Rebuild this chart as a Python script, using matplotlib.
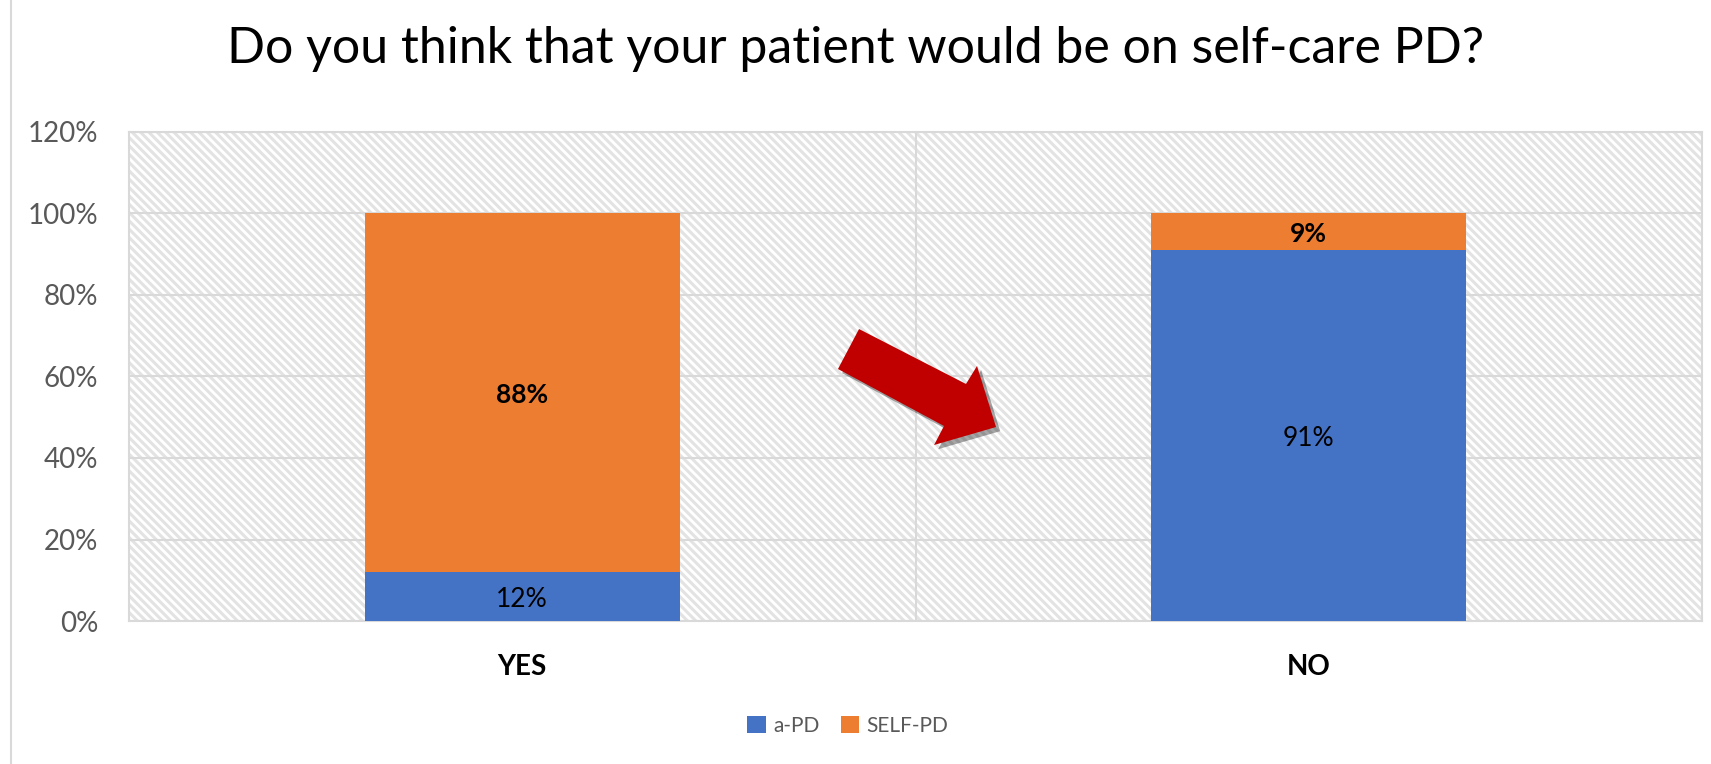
import matplotlib
matplotlib.use("Agg")
import matplotlib.pyplot as plt
from matplotlib.patches import Rectangle, Polygon
from matplotlib.lines import Line2D
import matplotlib.patheffects as pe
import numpy as np

categories = ["YES", "NO"]
series_names = ["a-PD", "SELF-PD"]
a_pd = [12, 91]
self_pd = [88, 9]
a_pd_labels = ["12%", "91%"]
self_pd_labels = ["88%", "9%"]
a_pd_bold = [False, False]
self_pd_bold = [True, True]
yticks = [0, 20, 40, 60, 80, 100, 120]
ytick_labels = ["0%", "20%", "40%", "60%", "80%", "100%", "120%"]
title = "Do you think that your patient would be on self-care PD?"

BLUE = "#4472C4"
ORANGE = "#ED7D31"
GRID = "#D9D9D9"
TXT = "#595959"

plt.rcParams['font.family'] = ['Lato', 'DejaVu Sans']
plt.rcParams['hatch.linewidth'] = 2.2

W, H = 1711, 764
fig = plt.figure(figsize=(W / 100, H / 100), dpi=100)
l, r, t, b = 129, 1702, 132, 621
ax = fig.add_axes([l / W, 1 - b / H, (r - l) / W, (b - t) / H])

# hatched background
ax.patch.set_visible(False)
bg = Rectangle((0, 0), 1, 1, transform=ax.transAxes, facecolor="white",
               edgecolor="#E3E3E3", hatch="\\\\\\\\", linewidth=0, zorder=0)
ax.add_patch(bg)

x = np.arange(len(categories))
width = 0.4
ax.bar(x, a_pd, width, color=BLUE, label=series_names[0], zorder=3)
ax.bar(x, self_pd, width, bottom=a_pd, color=ORANGE, label=series_names[1], zorder=3)

for i in range(len(categories)):
    ax.text(x[i], a_pd[i] / 2, a_pd_labels[i], ha="center", va="center_baseline",
            fontsize=19, color="black",
            fontweight="bold" if a_pd_bold[i] else "normal", zorder=5)
    ax.text(x[i], a_pd[i] + self_pd[i] / 2, self_pd_labels[i], ha="center", va="center_baseline",
            fontsize=19, color="black",
            fontweight="bold" if self_pd_bold[i] else "normal", zorder=5)

ax.set_xlim(-0.5, len(categories) - 0.5)
ax.set_ylim(0, 120)
ax.set_yticks(yticks)
ax.set_yticklabels(ytick_labels)
ax.set_xticks(x)
ax.set_xticklabels(categories, fontweight="bold", fontsize=20, color="black")
ax.tick_params(axis="y", length=0, pad=22, labelsize=20, labelcolor=TXT)
ax.tick_params(axis="x", length=0, pad=24)

ax.yaxis.grid(True, color=GRID, linewidth=1.5, zorder=1)
ax.set_axisbelow(True)
for xv in np.arange(0.5, len(categories) - 0.5, 1):
    ax.axvline(xv, color=GRID, linewidth=1.5, zorder=1)
for s in ax.spines.values():
    s.set_color(GRID)
    s.set_linewidth(1.5)

# decorative red arrow (axes fraction coordinates)
arrow_pts = [(0.4641, 0.5971), (0.4507, 0.5153), (0.5181, 0.3988), (0.5118, 0.3599),
             (0.5512, 0.3967), (0.5391, 0.5215), (0.5321, 0.4847)]
arrow = Polygon(arrow_pts, closed=True, transform=ax.transAxes, facecolor="#C00000",
                edgecolor="none", zorder=6,
                path_effects=[pe.SimplePatchShadow(offset=(3, -3), shadow_rgbFace="#000000", alpha=0.35),
                              pe.Normal()])
ax.add_patch(arrow)

fig.suptitle(title, x=0.5, y=1 - 49 / H, va="center", fontsize=36, color="black",
             fontweight="normal")

handles, labels = ax.get_legend_handles_labels()
fig.legend(handles, labels, loc="center", bbox_to_anchor=(848 / W, 1 - 726 / H), ncol=2,
           frameon=False, fontsize=15, labelcolor=TXT, handlelength=0.9, handleheight=0.9,
           columnspacing=1.0, handletextpad=0.35)

fig.add_artist(Line2D([11 / W, 11 / W], [0, 1], transform=fig.transFigure, color=GRID, linewidth=1.5))

fig.savefig("out.png", dpi=100)
